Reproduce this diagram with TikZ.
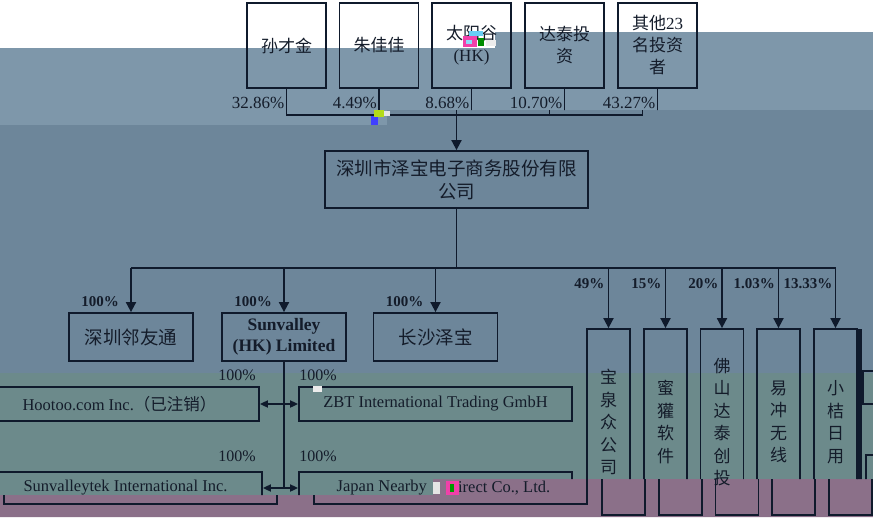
\documentclass[tikz,border=0pt]{standalone}
\usepackage{fontspec}
\setmainfont{Liberation Serif}
\newfontfamily\cjk{Noto Sans CJK SC}
\usetikzlibrary{arrows.meta}
\definecolor{lc}{HTML}{0F1A2C}
\definecolor{tc}{HTML}{141C2A}
\definecolor{bgL}{HTML}{7E97AA}
\definecolor{bgD}{HTML}{6D869A}
\definecolor{bgG}{HTML}{6C8A8B}
\definecolor{bgP}{HTML}{8B7089}
\newif\ifshowtop
\newif\ifshowmain
\newif\ifshowbot
\tikzset{
  ln/.style={draw=lc, line width=1.8pt},
  arr/.style={ln, -{Triangle[width=10pt,length=10pt]}},
  darr/.style={ln, {Triangle[width=7pt,length=8pt]}-{Triangle[width=7pt,length=8pt]}},
  bx/.style={draw=lc, line width=1.8pt, inner sep=0pt, align=center, text=tc},
  topbox/.style={bx, minimum width=79pt, minimum height=85pt, font=\cjk\fontsize{17}{22}\selectfont},
  midbox/.style={bx, minimum width=124pt, minimum height=48pt, font=\cjk\fontsize{18.5}{21}\selectfont},
  tallbox/.style={bx, minimum width=43pt, minimum height=186pt, font=\cjk\fontsize{17}{22.5}\selectfont},
  talltxt/.style={inner sep=0pt, align=center, text=tc, font=\cjk\fontsize{17}{22.5}\selectfont},
  widebox/.style={bx, minimum width=273pt, font=\fontsize{16.5}{18}\selectfont},
  wtxt/.style={inner sep=0pt, text=tc, anchor=west, font=\fontsize{16.5}{18}\selectfont},
  pcttop/.style={inner sep=0pt, text=tc, anchor=east, font=\fontsize{17}{17}\selectfont},
  pctb/.style={inner sep=0pt, text=tc, anchor=east, font=\bfseries\fontsize{15}{15}\selectfont},
  pctr/.style={inner sep=0pt, text=tc, font=\fontsize{16}{16}\selectfont},
}
\newcommand\chartbody{%
  % shareholders
  \node[topbox] (t1) at (271.5,45.5) {\ifshowtop 孙才金\fi};
  \node[topbox] (t2) at (364,45.5) {\ifshowtop 朱佳佳\fi};
  \node[topbox] (t3) at (456.5,45.5) {\ifshowtop 太阳谷\\{\rmfamily (HK)}\fi};
  \node[topbox] (t4) at (549.5,45.5) {\ifshowtop 达泰投\\资\fi};
  \node[topbox] (t5) at (642.5,45.5) {\ifshowtop 其他{\rmfamily 23}\\名投资\\者\fi};
  \coordinate (jn) at (456.5,115);
  \ifshowtop
    \node[pcttop] (q1) at (269.5,103) {32.86\%};
    \node[pcttop] (q2) at (362,103) {4.49\%};
    \node[pcttop] (q3) at (454.5,103) {8.68\%};
    \node[pcttop] (q4) at (547.5,103) {10.70\%};
    \node[pcttop] (q5) at (640.5,103) {43.27\%};
  \fi
  \draw[ln] (t1.south) -- (t1.south |- jn) -- (t5.south |- jn) -- (t5.south);
  \draw[ln] (t2.south) -- (t2.south |- jn);
  \draw[ln] (t4.south) -- (t4.south |- jn);
  % company
  \node[bx, minimum width=263pt, minimum height=57pt, font=\cjk\fontsize{18.5}{23}\selectfont] (co) at (456.5,179.5) {\ifshowmain 深圳市泽宝电子商务股份有限\\公司\fi};
  \draw[arr] (t3.south) -- (co.north);
  \coordinate (ds) at (456.5,268);
  % subsidiaries
  \node[midbox] (l1) at (131,337) {\ifshowmain 深圳邻友通\fi};
  \node[midbox, font=\bfseries\fontsize{17.5}{21}\selectfont] (l2) at (284,337) {\ifshowmain Sunvalley\\(HK) Limited\fi};
  \node[midbox] (l3) at (435.5,337) {\ifshowmain 长沙泽宝\fi};
  \node[tallbox] (r1) at (608.5,422) {\ifshowmain 宝\\泉\\众\\公\\司\fi};
  \node[tallbox] (r2) at (665.5,422) {\ifshowmain 蜜\\獾\\软\\件\fi};
  \node[tallbox] (r3) at (722,422) {};
  \node[tallbox] (r4) at (778.5,422) {\ifshowmain 易\\冲\\无\\线\fi};
  \node[tallbox] (r5) at (835.5,422) {\ifshowmain 小\\桔\\日\\用\fi};
  \fill[lc] (857,329) rectangle (862,515);
  \draw[ln] (co.south) -- (ds);
  \draw[ln] (l1.north |- ds) -- (r5.north |- ds);
  \foreach \n in {l1,l2,l3,r1,r2,r3,r4,r5} {\draw[arr] (\n.north |- ds) -- (\n.north);}
  \ifshowmain
    \node[pctb] (a1) at (119,302) {100\%};
    \node[pctb] (a2) at (272,302) {100\%};
    \node[pctb] (a3) at (423.5,302) {100\%};
    \node[pctb] (b1) at (604.5,284) {49\%};
    \node[pctb] (b2) at (661.5,284) {15\%};
    \node[pctb] (b3) at (718.5,284) {20\%};
    \node[pctb] (b4) at (775,284) {1.03\%};
    \node[pctb] (b5) at (832.5,284) {13.33\%};
  \fi
  % overseas
  \node[widebox, minimum width=279pt, minimum height=34pt] (h1) at (119.5,404) {\ifshowmain Hootoo.com Inc.{\cjk （已注销）}\fi};
  \node[widebox, minimum height=34pt] (z1) at (435.5,404) {\ifshowmain ZBT International Trading GmbH\fi};
  \node[widebox, minimum height=32pt] (s1) at (125.5,488) {\ifshowmain Sunvalleytek International Inc.\fi};
  \node[widebox, minimum height=32pt] (j1) at (435.5,488) {};
  \ifshowmain
    \node[wtxt] (jt1) at (336.5,488) {Japan Nearby};
  \fi
  \ifshowbot
    \node[wtxt] (jt2) at (431,488) {Direct Co., Ltd.};
  \fi
  \draw[ln] (l2.south) -- (l2.south |- s1.east);
  \draw[darr] (h1.east) -- (z1.west);
  \draw[darr] (s1.east) -- (j1.west);
  \ifshowmain
    \node[pctr] (c1) at (237,375) {100\%};
    \node[pctr] (c2) at (318,375) {100\%};
    \node[pctr] (c3) at (237,456) {100\%};
    \node[pctr] (c4) at (318,456) {100\%};
  \fi
  % fragments at the right edge
  \draw[ln] (863,371) rectangle (900,404);
  \draw[ln] (866,455) rectangle (900,515);
}
\begin{document}
\begin{tikzpicture}[x=1pt,y=-1pt]
\useasboundingbox (0,0) rectangle (873,517);
\fill[white] (0,0) rectangle (873,517);
\fill[bgL] (0,48) -- (495,48) -- (495,32) -- (873,32) -- (873,110) -- (387,110) -- (387,125) -- (0,125) -- cycle;
\fill[bgD] (0,125) -- (387,125) -- (387,110) -- (873,110) -- (873,373) -- (0,373) -- cycle;
\fill[bgG] (0,373) -- (873,373) -- (873,479) -- (433,479) -- (433,495) -- (0,495) -- cycle;
\fill[bgP] (0,495) -- (433,495) -- (433,479) -- (873,479) -- (873,517) -- (0,517) -- cycle;
\begin{scope}
  \clip (0,125) -- (387,125) -- (387,110) -- (873,110) -- (873,479) -- (433,479) -- (433,495) -- (0,495) -- cycle;
  \showtopfalse\showmaintrue\showbotfalse
  \chartbody
  \coordinate (r3c) at (r3.center);
\end{scope}
\begin{scope}
  \clip (0,-5) -- (873,-5) -- (873,110) -- (387,110) -- (387,125) -- (0,125) -- cycle;
  \showtoptrue\showmainfalse\showbotfalse
  \begin{scope}[shift={(15,0)}]\chartbody\end{scope}
\end{scope}
\begin{scope}
  \clip (0,495) -- (433,495) -- (433,479) -- (873,479) -- (873,520) -- (0,520) -- cycle;
  \showtopfalse\showmainfalse\showbottrue
  \begin{scope}[shift={(15,0)}]\chartbody\end{scope}
\end{scope}
% text of the Foshan box, drawn once, unshifted
\node[talltxt] (r3t) at (r3c) {佛\\山\\达\\泰\\创\\投};
% compression artefacts
\fill[magenta!75] (463,36) rectangle (477,47);
\fill[cyan!60] (469,31) rectangle (483,36);
\fill[cyan!45] (466,40) rectangle (472,44);
\fill[green!55!black] (478,38) rectangle (484,46);
\fill[white!85!gray] (486,40) rectangle (496,46);
\fill[blue!75] (371,116) rectangle (378,125);
\fill[yellow!70!green] (374,110) rectangle (384,117);
\fill[white!80!gray] (384,111) rectangle (390,116);
\fill[white!85!gray] (313,386) rectangle (322,392);
\fill[white!80!gray] (433,482) rectangle (440,494);
\fill[magenta!75] (446,481) rectangle (459,495);
\fill[green!60!black] (450,484) rectangle (454,492);
\end{tikzpicture}
\end{document}
